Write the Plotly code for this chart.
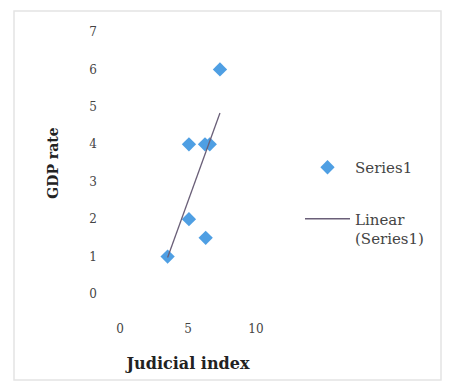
import numpy as np
import plotly.graph_objects as go

# Judicial index vs GDP rate observations
judicial_index = [7.35, 5.07, 6.25, 6.6, 5.07, 6.3, 3.5]
gdp_rate = [6, 4, 4, 4, 2, 1.5, 1]

x_ticks = [0, 5, 10]
y_ticks = [0, 1, 2, 3, 4, 5, 6, 7]

# Least-squares linear trend across the observed x span
slope, intercept = np.polyfit(judicial_index, gdp_rate, 1)
trend_x = [min(judicial_index), max(judicial_index)]
trend_y = [slope * v + intercept for v in trend_x]

SERIF = "DejaVu Serif, Liberation Serif, serif"
W, H = 450, 381
L, R, T, B = 120, 256, 32, 294  # plot area in pixels


def px_x(p):
    return (p - L) / (R - L)


def px_y(p):
    return (B - p) / (B - T)


fig = go.Figure()
fig.add_trace(go.Scatter(
    x=judicial_index, y=gdp_rate, mode="markers", name="Series1",
    marker=dict(symbol="diamond", size=11, color="#4f9fe3"),
    legendgroup="a",
))
fig.add_trace(go.Scatter(
    x=trend_x, y=trend_y, mode="lines", name="Linear<br>(Series1)",
    line=dict(color="#6a5f78", width=1.3),
    legendgroup="b",
))

fig.update_layout(
    width=W, height=H,
    margin=dict(l=L, r=W - R, t=T, b=H - B),
    paper_bgcolor="white", plot_bgcolor="white",
    font=dict(family=SERIF, color="#333333"),
    showlegend=True,
    legend=dict(
        x=px_x(300), y=px_y(151), xanchor="left", yanchor="top",
        font=dict(family=SERIF, size=15, color="#444444"),
        tracegroupgap=29, valign="top", itemwidth=45,
        bgcolor="rgba(0,0,0,0)",
    ),
    xaxis=dict(
        range=[0, 10], tickvals=x_ticks, showgrid=False, zeroline=False,
        showline=False, ticks="", ticklabelstandoff=26,
        tickfont=dict(family=SERIF, size=12, color="#444444"),
        title=dict(text="<b>Judicial index</b>", standoff=22,
                   font=dict(family=SERIF, size=16, color="#222222")),
    ),
    yaxis=dict(
        range=[0, 7], tickvals=y_ticks, showgrid=False, zeroline=False,
        showline=False, ticks="", ticklabelstandoff=22,
        tickfont=dict(family=SERIF, size=12, color="#444444"),
        title=dict(text="<b>GDP rate</b>", standoff=27,
                   font=dict(family=SERIF, size=14, color="#222222")),
    ),
    shapes=[dict(
        type="rect", xref="paper", yref="paper",
        x0=px_x(14), x1=px_x(441), y0=px_y(380), y1=px_y(11),
        line=dict(color="#e4e4e4", width=1.5), layer="below",
    )],
)

fig.write_html("out.html")
